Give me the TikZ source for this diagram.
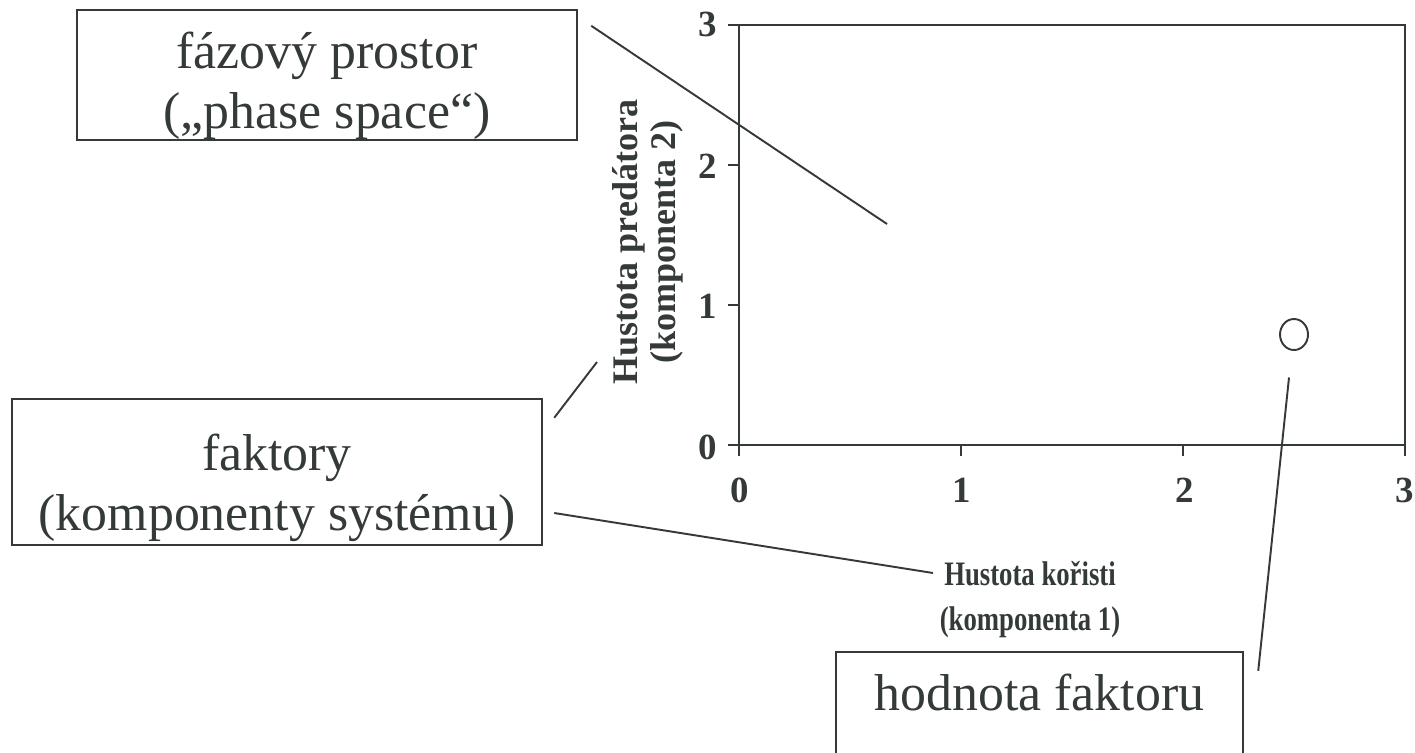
\documentclass[tikz,border=0pt]{standalone}
\usepackage{fontspec}
\setmainfont{Liberation Serif}
\usetikzlibrary{shapes.geometric}
\definecolor{ink}{RGB}{52,58,56}

\begin{document}
\begin{tikzpicture}[
        box/.style={rectangle, draw=ink, line width=1.4pt, text=ink, inner sep=0pt, align=center, anchor=base, font=\fontsize{29.5}{34}\selectfont},
        tick/.style={text=ink, inner sep=0pt, font=\fontsize{21}{24}\selectfont\bfseries},
        axislab/.style={text=ink, inner sep=0pt, align=center},
        axis/.style={draw=ink, line width=1.4pt},
        leader/.style={draw=ink, line width=1.1pt}
    ]
        \useasboundingbox (0,0) rectangle (28.3,-15.04);
        \clip (0,0) rectangle (28.3,-15.04);

        % Frame and ticks
        \draw[axis] (14.78,-0.5) -- (14.78,-8.9) -- (28.1,-8.9) -- (28.1,-0.5) -- cycle;
        \draw[axis] (14.56,-0.5) -- (14.78,-0.5);
        \draw[axis] (14.56,-3.3) -- (14.78,-3.3);
        \draw[axis] (14.56,-6.1) -- (14.78,-6.1);
        \draw[axis] (14.56,-8.9) -- (14.78,-8.9);
        \draw[axis] (14.78,-8.9) -- (14.78,-9.12);
        \draw[axis] (19.22,-8.9) -- (19.22,-9.12);
        \draw[axis] (23.66,-8.9) -- (23.66,-9.12);
        \draw[axis] (28.1,-8.9) -- (28.1,-9.12);

        % Nodes
        \node (y3) [tick] at (14.16,-0.49) {3};
        \node (y2) [tick] at (14.16,-3.32) {2};
        \node (y1) [tick] at (14.16,-6.12) {1};
        \node (y0) [tick] at (14.16,-8.94) {0};
        \node (x0) [tick] at (14.8,-9.8) {0};
        \node (x1) [tick] at (19.24,-9.8) {1};
        \node (x2) [tick] at (23.7,-9.8) {2};
        \node (x3) [tick] at (28.1,-9.8) {3};
        \node (ylab) [axislab, rotate=90, font=\fontsize{20.5}{21.6}\selectfont\bfseries] at (12.96,-4.84) {Hustota predátora\\(komponenta 2)};
        \node (xlab) [axislab, xscale=0.78, font=\fontsize{19.5}{25.6}\selectfont\bfseries] at (20.6,-12.0) {Hustota kořisti\\(komponenta 1)};
        \node (phase) [box, minimum width=10cm, text height=2.36cm, text depth=0.24cm] at (6.54,-2.56) {fázový prostor\\(„phase space“)};
        \node (factors) [box, minimum width=10.6cm, text height=2.62cm, text depth=0.30cm] at (5.54,-10.6) {faktory\\(komponenty systému)};
        \node (value) [box, minimum width=8.14cm, text height=1.16cm, text depth=1.5cm] at (20.79,-14.2) {hodnota faktoru};
        \node (pt) [ellipse, draw=ink, line width=1.1pt, minimum width=0.56cm, minimum height=0.62cm, inner sep=0pt] at (25.88,-6.69) {};
        \coordinate (p1) at (17.74,-4.48);
        \coordinate (p2) at (11.94,-7.24);
        \coordinate (p3) at (18.66,-11.46);

        % Edges
        \draw[leader] ([shift={(0.26,-0.34)}]phase.north east) -- (p1);
        \draw[leader] ([shift={(0.22,-0.4)}]factors.north east) -- (p2);
        \draw[leader] ([shift={(0.22,-0.82)}]factors.east) -- (p3);
        \draw[leader] ([shift={(-0.1,-0.53)}]pt.south) -- ([shift={(0.28,-0.4)}]value.north east);

    \end{tikzpicture}
\end{document}
